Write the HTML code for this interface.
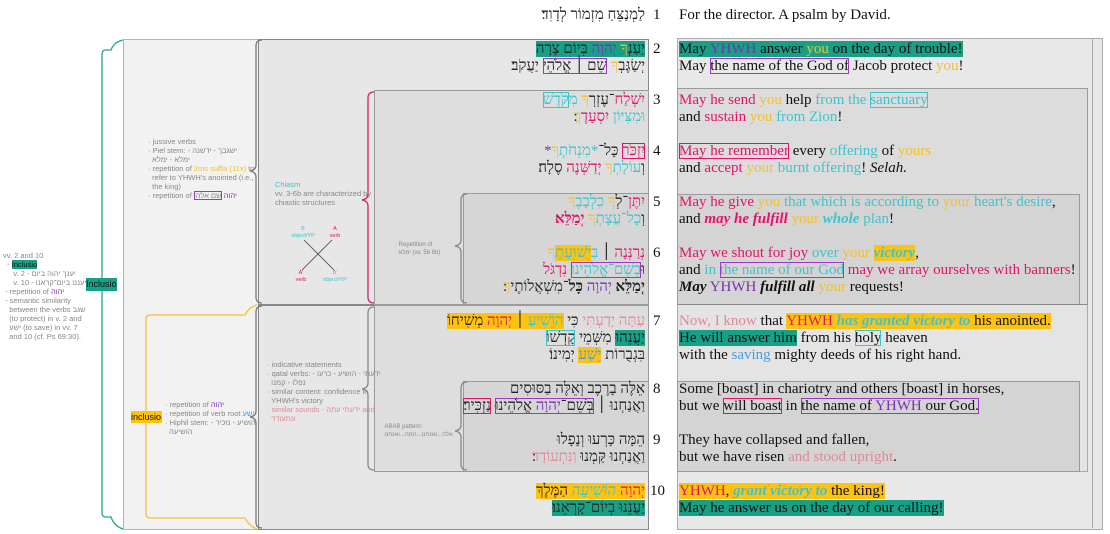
<!DOCTYPE html>
<html><head><meta charset="utf-8">
<style>
body{margin:0;width:1110px;height:534px;background:#fff;position:relative;overflow:hidden;font-family:"Liberation Serif",serif;}
.a{position:absolute;}
.h{position:absolute;right:465px;direction:rtl;white-space:nowrap;font:15px/17px "Liberation Serif","DejaVu Serif",serif;color:#222;}
.e{position:absolute;left:679px;white-space:nowrap;font:15px/17px "Liberation Serif",serif;color:#111;}
.n{position:absolute;left:653px;font:15px/17px "Liberation Serif",serif;color:#111;}
.note{position:absolute;font:7.5px/9px "Liberation Sans",sans-serif;color:#888;white-space:nowrap;}
.g{background:#17a085;} .y{background:#ffc20e;}
.cy{color:#f2c12e}.pu{color:#7a2fb0}.cc{color:#3fc4cc}.mg{color:#e0156a}.pk{color:#e08a95}.bl{color:#4a9be0}
.bp{outline:1.5px solid #9b39c0;outline-offset:-1px}
.bc{outline:1.5px solid #3fc4cc;outline-offset:-1px}
.bm{outline:1.5px solid #e0156a;outline-offset:-1px}
.box{position:absolute;border:1px solid #9a9a9a;}
</style></head><body>

<div class="box" style="left:123px;top:39px;width:524px;height:489px;background:#f2f2f2;border-color:#b5b5b5"></div>
<div class="box" style="left:258px;top:39px;width:389px;height:264px;background:#e7e7e7;border-color:#888"></div>
<div class="box" style="left:258px;top:305px;width:389px;height:223px;background:#e7e7e7;border-color:#888"></div>
<div class="box" style="left:374px;top:90px;width:273px;height:213px;background:#dedede"></div>
<div class="box" style="left:463px;top:193px;width:184px;height:110px;background:#d6d6d6"></div>
<div class="box" style="left:374px;top:305px;width:273px;height:165px;background:#dedede"></div>
<div class="box" style="left:463px;top:381px;width:184px;height:89px;background:#d6d6d6"></div>

<div class="box" style="left:677px;top:38px;width:424px;height:490px;background:#e8e8e8;border-color:#aaa"></div>
<div class="a" style="left:1092px;top:38px;width:1px;height:490px;background:#aaa"></div>
<div class="box" style="left:677px;top:88px;width:409px;height:215px;background:#dcdcdc"></div>
<div class="box" style="left:677px;top:194px;width:401px;height:109px;background:#d4d4d4"></div>
<div class="box" style="left:677px;top:304px;width:409px;height:166px;background:#e4e4e4;border-color:#aaa;border-top-color:#888"></div>
<div class="box" style="left:677px;top:381px;width:401px;height:89px;background:#d4d4d4"></div>

<svg class="a" style="left:0;top:0" width="1110" height="534">
<g fill="none" stroke-width="1.3">
<path d="M123,40 Q114,42 111,50 L106,50 Q102,50 102,54 L102,513 Q102,517 106,517 L111,517 Q114,526 123,529" stroke="#22a88a"/>
<path d="M257,305 Q249,307 245,315 L150,315 Q146,315 146,319 L146,514 Q146,518 150,518 L245,518 Q249,526 257,529" stroke="#f2c12e"/>
<path d="M262,40 Q256,40 256,46 L256,165 Q256,170 250,171 Q256,172 256,177 L256,297 Q256,303 262,303" stroke="#777"/>
<path d="M262,306 Q256,306 256,312 L256,411 Q256,416 250,417 Q256,418 256,423 L256,522 Q256,528 262,528" stroke="#777"/>
<path d="M374,92 Q368,92 368,98 L368,194 Q368,199 362,200 Q368,201 368,206 L368,297 Q368,303 374,303" stroke="#d41d6a"/>
<path d="M374,307 Q368,307 368,313 L368,383 Q368,388 362,389 Q368,390 368,395 L368,464 Q368,470 374,470" stroke="#888"/>
<path d="M467,194 Q461,194 461,200 L461,240 Q461,245 455,246 Q461,247 461,252 L461,297 Q461,303 467,303" stroke="#888"/>
<path d="M467,382 Q461,382 461,388 L461,425 Q461,430 455,431 Q461,432 461,437 L461,464 Q461,470 467,470" stroke="#888"/>
</g>
<path d="M304,240 L334,270 M332,240 L302,270" stroke="#444" stroke-width="0.8"/>
<g font-family="Liberation Sans,sans-serif" font-size="5.5" text-anchor="middle">
<text x="303" y="230" fill="#3fc4cc">B</text><text x="303" y="237" fill="#3fc4cc">object/YP</text>
<text x="335" y="230" fill="#e0156a">A</text><text x="335" y="237" fill="#e0156a">verb</text>
<text x="301" y="274" fill="#e0156a">A'</text><text x="301" y="281" fill="#e0156a">verb</text>
<text x="335" y="274" fill="#3fc4cc">B'</text><text x="335" y="281" fill="#3fc4cc">object/YP</text>
</g>
</svg>

<div class="a" style="left:86px;top:278px;width:31px;height:13px;background:#17a085;font:9px/13px 'Liberation Sans',sans-serif;color:#111">Inclusio</div>
<div class="a" style="left:131px;top:411px;width:31px;height:12px;background:#ffc20e;font:9px/12px 'Liberation Sans',sans-serif;color:#111">inclusio</div>

<div class="note" style="left:3px;top:251px">vv. 2 and 10<br>&nbsp;&nbsp;- <span style="background:#17a085;color:#111">Inclusio</span><br>&nbsp;&nbsp;&nbsp;&nbsp;&nbsp;v. 2 - יענך יהוה ביום<br>&nbsp;&nbsp;&nbsp;&nbsp;&nbsp;v. 10 - יעננו ביום־קראנו<br>&nbsp;- repetition of <span class="pu">יהוה</span><br>&nbsp;- semantic similarity<br>&nbsp;&nbsp;&nbsp;between the verbs שגב<br>&nbsp;&nbsp;&nbsp;(to protect) in v. 2 and<br>&nbsp;&nbsp;&nbsp;ישע (to save) in vv. 7<br>&nbsp;&nbsp;&nbsp;and 10 (cf. Ps 69:30).</div>
<div class="note" style="left:148px;top:137px">· jussive verbs<br>· Piel stem: - ישגבך - ידשנה<br>&nbsp;&nbsp;ימלא - ימלא<br>· repetition of <span class="cy">2ms suffix (11x)</span> to<br>&nbsp;&nbsp;refer to YHWH's anointed (i.e.,<br>&nbsp;&nbsp;the king)<br>· repetition of <span class="pu">יהוה</span> <span class="bp">שם אלהי</span></div>
<div class="note" style="left:275px;top:180px"><span class="cc">Chiasm</span><br>vv. 3-6b are characterized by<br>chiastic structures</div>
<div class="note" style="left:395px;top:241px;font-size:6px;line-height:8px">· Repetition of<br>&nbsp;&nbsp;ימלא (vv. 5b 6b)</div>
<div class="note" style="left:165px;top:400px">· repetition of <span class="pu">יהוה</span><br>· repetition of verb root <span class="bl">ישע</span><br>· Hiphil stem: - הושיע - נזכיר<br>&nbsp;&nbsp;הושיעה</div>
<div class="note" style="left:267px;top:360px">· indicative statements<br>· qatal verbs: - ידעתי - הושיע - כרעו<br>&nbsp;&nbsp;נפלו - קמנו<br>· similar content: confidence in<br>&nbsp;&nbsp;YHWH's victory<br><span class="pk">· similar sounds - ידעתי עתה and<br>&nbsp;&nbsp;ונתעודד</span></div>
<div class="note" style="left:381px;top:423px;font-size:6px;line-height:8px">· ABAB pattern:<br>&nbsp;&nbsp;אלה...ואנחנו...המה...ואנחנו</div>

<div class="h" style="top:7px">לַמְנַצֵּחַ מִזְמוֹר לְדָוִד׃</div>
<div class="h" style="top:41px"><span class="g">יַעַנְ<span class="cy">ךָ</span> <span class="pu">יְהוָה</span> בְּיוֹם צָרָה</span></div>
<div class="h" style="top:58px">יְשַׂגֶּבְ<span class="cy">ךָ</span> <span class="bp">שֵׁם ׀ אֱלֹהֵי</span> יַעֲקֹב׃</div>
<div class="h" style="top:92px"><span class="mg">יִשְׁלַח</span>־עֶזְרְ<span class="cy">ךָ</span> <span class="cc">מִ<span class="bc">קֹּדֶשׁ</span></span></div>
<div class="h" style="top:109px"><span class="cc">וּמִצִּיּוֹן</span> <span class="mg">יִסְעָדֶ</span><span class="cy">ךָּ</span>׃</div>
<div class="h" style="top:143px"><span class="mg bm">יִזְכֹּר</span> כָּל־<span class="cc">*מִנְחֹתֶ</span><span class="cy">ךָ</span><span class="pu">*</span></div>
<div class="h" style="top:160px">וְ<span class="cc">עוֹלָתְ</span><span class="cy">ךָ</span> <span class="mg">יְדַשְּׁנֶה</span> סֶלָה׃</div>
<div class="h" style="top:194px"><span class="mg">יִתֶּן</span>־לְ<span class="cy">ךָ</span> <span class="cc">כִלְבָבֶ</span><span class="cy">ךָ</span></div>
<div class="h" style="top:211px">וְ<span class="cc">כָל־עֲצָתְ</span><span class="cy">ךָ</span> <b class="mg">יְמַלֵּא</b>׃</div>
<div class="h" style="top:245px"><span class="mg">נְרַנְּנָה</span> ׀ <span class="cc">בִּ</span><span class="y cc">ישׁוּעָתֶ</span><span class="cy">ךָ</span></div>
<div class="h" style="top:262px">וּ<span class="cc bp">בְשֵׁם־אֱלֹהֵינוּ</span> <span class="mg">נִדְגֹּל</span></div>
<div class="h" style="top:279px"><b>יְמַלֵּא</b> <span class="pu">יְהוָה</span> <b>כָּל</b>־מִשְׁאֲלוֹתֶי<span class="cy">ךָ</span>׃</div>
<div class="h" style="top:313px"><span class="pk">עַתָּה יָדַעְתִּי</span> כִּי <span class="y"><span class="cc">הוֹשִׁיעַ</span> ׀ <span class="mg">יְהוָה</span> מְשִׁיחוֹ</span></div>
<div class="h" style="top:330px"><span class="g">יַעֲנֵהוּ</span> מִשְּׁמֵי <span class="bc">קָדְשׁוֹ</span></div>
<div class="h" style="top:347px">בִּגְבֻרוֹת <span class="y bl">יֵשַׁע</span> יְמִינוֹ׃</div>
<div class="h" style="top:381px">אֵלֶּה בָרֶכֶב וְאֵלֶּה בַסּוּסִים</div>
<div class="h" style="top:398px">וַאֲנַחְנוּ ׀ <span class="bp">בְּשֵׁם־<span class="pu">יְהוָה</span> אֱלֹהֵינוּ</span> <span class="bm">נַזְכִּיר</span>׃</div>
<div class="h" style="top:432px">הֵמָּה כָּרְעוּ וְנָפָלוּ</div>
<div class="h" style="top:449px">וַאֲנַחְנוּ קַּמְנוּ <span class="pk">וַנִּתְעוֹדָד</span>׃</div>
<div class="h" style="top:483px"><span class="y"><span class="mg">יְהוָה</span> <i class="cc">הוֹשִׁיעָה</i> הַמֶּלֶךְ</span></div>
<div class="h" style="top:500px"><span class="g">יַעֲנֵנוּ בְיוֹם־קָרְאֵנוּ׃</span></div>

<div class="n" style="top:7px">1</div><div class="n" style="top:41px">2</div><div class="n" style="top:92px">3</div><div class="n" style="top:143px">4</div><div class="n" style="top:194px">5</div><div class="n" style="top:245px">6</div><div class="n" style="top:313px">7</div><div class="n" style="top:381px">8</div><div class="n" style="top:432px">9</div><div class="n" style="top:483px;left:650px">10</div>

<div class="e" style="top:7px">For the director. A psalm by David.</div>
<div class="e" style="top:41px"><span class="g">May <span class="pu">YHWH</span> answer <span class="cy">you</span> on the day of trouble!</span></div>
<div class="e" style="top:58px">May <span class="bp">the name of the God of</span> Jacob protect <span class="cy">you</span>!</div>
<div class="e" style="top:92px"><span class="mg">May he send</span> <span class="cy">you</span> help <span class="cc">from the <span class="bc">sanctuary</span></span></div>
<div class="e" style="top:109px">and <span class="mg">sustain</span> <span class="cy">you</span> <span class="cc">from Zion</span>!</div>
<div class="e" style="top:143px"><span class="mg bm">May he remember</span> every <span class="cc">offering</span> of <span class="cy">yours</span></div>
<div class="e" style="top:160px">and <span class="mg">accept</span> <span class="cy">your</span> <span class="cc">burnt offering</span>! <i>Selah.</i></div>
<div class="e" style="top:194px"><span class="mg">May he give</span> <span class="cy">you</span> <span class="cc">that which is according to</span> <span class="cy">your</span> <span class="cc">heart's desire</span>,</div>
<div class="e" style="top:211px">and <b><i class="mg">may he fulfill</i></b> <span class="cy">your</span> <b><i class="cc">whole</i></b> <span class="cc">plan</span>!</div>
<div class="e" style="top:245px"><span class="mg">May we shout for joy</span> <span class="cc">over</span> <span class="cy">your</span> <b><i class="y cc">victory</i></b>,</div>
<div class="e" style="top:262px">and <span class="cc">in</span> <span class="bp cc">the name of our God</span> <span class="mg">may we array ourselves with banners</span>!</div>
<div class="e" style="top:279px"><b><i>May</i></b> <span class="pu">YHWH</span> <b><i>fulfill all</i></b> <span class="cy">your</span> requests!</div>
<div class="e" style="top:313px"><span class="pk">Now, I know</span> that <span class="y"><span class="mg">YHWH</span> <b><i class="cc">has granted victory to</i></b> his anointed.</span></div>
<div class="e" style="top:330px"><span class="g">He will answer him</span> from his <span class="bc">holy</span> heaven</div>
<div class="e" style="top:347px">with the <span class="bl">saving</span> mighty deeds of his right hand.</div>
<div class="e" style="top:381px">Some [boast] in chariotry and others [boast] in horses,</div>
<div class="e" style="top:398px">but we <span class="bm">will boast</span> in <span class="bp">the name of <span class="pu">YHWH</span> our God.</span></div>
<div class="e" style="top:432px">They have collapsed and fallen,</div>
<div class="e" style="top:449px">but we have risen <span class="pk">and stood upright</span>.</div>
<div class="e" style="top:483px"><span class="y"><span class="mg">YHWH</span>, <b><i class="cc">grant victory to</i></b> the king!</span></div>
<div class="e" style="top:500px"><span class="g">May he answer us on the day of our calling!</span></div>
</body></html>
